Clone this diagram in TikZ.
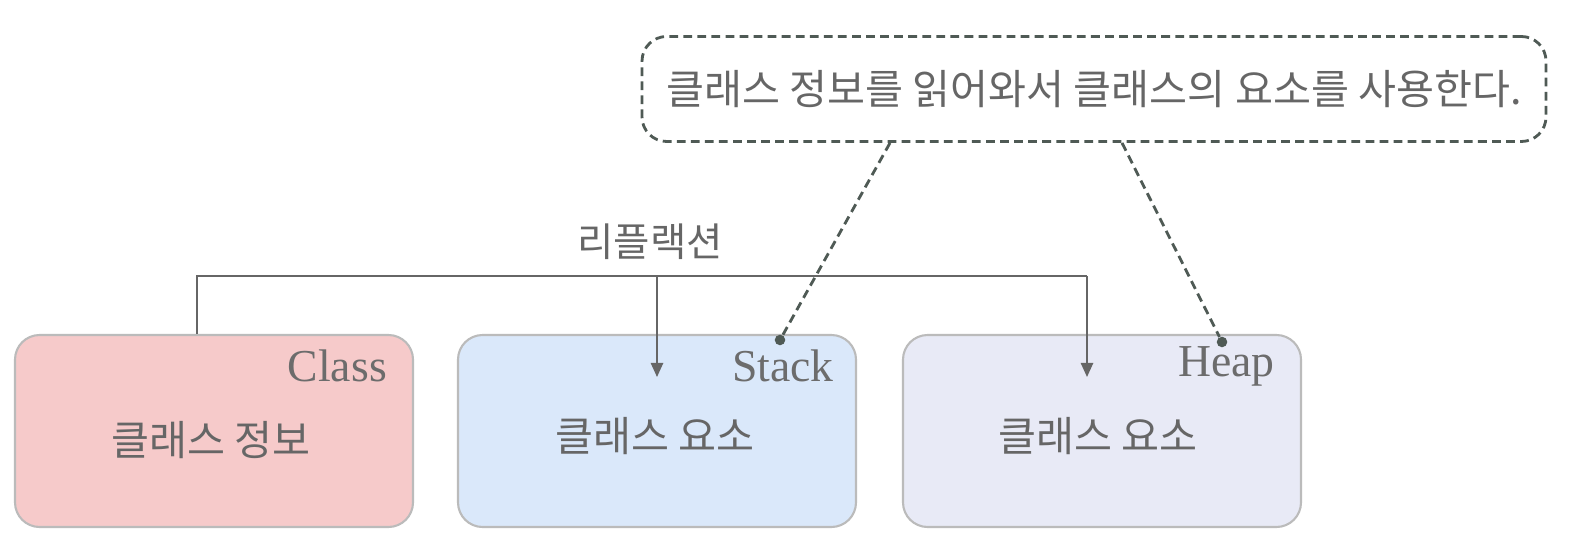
\documentclass[tikz,border=0pt]{standalone}
\usepackage{fontspec}
\setmainfont{Liberation Serif}
\newfontfamily\kr{Noto Sans CJK KR}
\usetikzlibrary{arrows.meta}
\definecolor{bordc}{HTML}{BBBBBB}
\definecolor{txtc}{HTML}{666666}
\definecolor{dashc}{HTML}{4F5A55}
\tikzset{
  membox/.style={draw=bordc, line width=1.2pt, rounded corners=14pt, minimum width=398*0.02cm, minimum height=192*0.02cm, inner sep=0pt},
  main/.style={font=\kr\fontsize{23.5}{28}\selectfont, text=txtc},
  tag/.style={font=\fontsize{26}{30}\selectfont, text=gray!85!black, anchor=east},
  conn/.style={draw=gray!80!black, line width=1pt},
  arr/.style={conn, -{Triangle[width=7pt,length=8pt]}},
  dashln/.style={draw=dashc, line width=1.6pt, dash pattern=on 5pt off 3pt},
  dot/.style={circle, fill=dashc, inner sep=0pt, minimum size=6pt}
}
\begin{document}
\begin{tikzpicture}[x=0.02cm,y=-0.02cm]
\useasboundingbox (0,0) rectangle (1574,547);
\node[membox, fill={rgb,255:red,246;green,202;blue,202}] (cls) at (214,431) {};
\node[membox, fill={rgb,255:red,218;green,232;blue,250}] (stk) at (657,431) {};
\node[membox, fill={rgb,255:red,232;green,234;blue,246}] (hp) at (1102,431) {};
\node[tag] (clst) at (393,366) {Class};
\node[tag] (stkt) at (840,366) {Stack};
\node[tag] (hpt) at (1281,366) {Heap};
\node[main] (clsm) at (211,440) {클래스 정보};
\node[main] (stkm) at (655,436) {클래스 요소};
\node[main] (hpm) at (1098,436) {클래스 요소};
\node[draw=dashc, line width=1.6pt, dash pattern=on 5pt off 3pt, rounded corners=14pt, minimum width=904*0.02cm, minimum height=105*0.02cm, main, text=txtc] (note) at (1094,89) {클래스 정보를 읽어와서 클래스의 요소를 사용한다.};
\node[main, font=\kr\fontsize{22.5}{26}\selectfont] (refl) at (650,242) {리플랙션};
\coordinate (c0) at (197,276);
\coordinate (c1) at (1087,276);
\coordinate (c2) at (657,276);
\coordinate (a1) at (1087,377);
\coordinate (a2) at (657,377);
\draw[conn] (cls.north -| c0) -- (c0) -- (c1);
\draw[arr] (c1) -- (a1);
\draw[arr] (c2) -- (a2);
\node[dot] (d1) at (780,340) {};
\node[dot] (d2) at (1222,342) {};
\draw[dashln] (note.south -| 890,0) -- (d1);
\draw[dashln] (note.south -| 1122,0) -- (d2);
\end{tikzpicture}
\end{document}
